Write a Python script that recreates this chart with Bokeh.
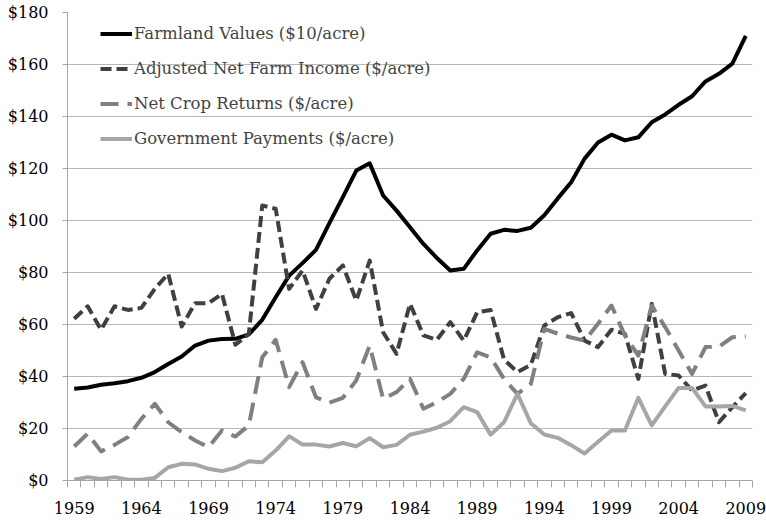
from bokeh.plotting import figure
from bokeh.models import FixedTicker, NumeralTickFormatter, Legend, LegendItem, Range1d
from bokeh.embed import file_html
from bokeh.resources import INLINE

years = list(range(1959, 2010))
farmland = [35.3, 35.8, 36.8, 37.4, 38.2, 39.5, 41.7, 44.8, 47.7, 51.9,
            53.8, 54.4, 54.5, 56.2, 61.8, 70.5, 78.8, 83.6, 88.7, 99.0,
            109.0, 119.2, 122.0, 109.6, 103.8, 97.4, 91.0, 85.6, 80.8, 81.4,
            88.5, 94.9, 96.4, 96.0, 97.2, 102.0, 108.5, 114.7, 123.8, 130.0,
            133.0, 130.8, 132.0, 137.8, 140.8, 144.5, 147.8, 153.5, 156.4, 160.3,
            171.0]
net_income = [62.2, 67.0, 58.0, 67.0, 65.6, 66.4, 73.7, 79.5, 59.2, 68.2,
              68.2, 71.8, 52.2, 56.4, 105.8, 104.5, 73.7, 80.8, 66.0, 77.6,
              82.7, 69.2, 84.6, 57.0, 48.7, 68.0, 55.8, 54.1, 60.9, 53.8,
              64.7, 65.6, 46.5, 41.7, 44.5, 59.6, 62.8, 64.4, 53.8, 51.3,
              58.0, 56.4, 39.1, 68.0, 41.0, 40.4, 34.6, 36.5, 22.4, 28.2,
              33.6]
crop_returns = [13.1, 18.0, 11.2, 13.7, 16.7, 23.7, 29.5, 22.4, 18.6, 15.4,
                12.8, 19.2, 16.9, 21.2, 47.4, 54.1, 35.9, 45.5, 32.0, 29.9,
                31.8, 38.5, 51.9, 31.4, 34.0, 39.1, 27.6, 30.1, 33.3, 39.1,
                49.3, 47.4, 39.1, 33.3, 37.2, 58.3, 56.5, 55.0, 53.8, 60.3,
                67.3, 55.8, 48.0, 67.3, 59.0, 50.0, 41.0, 51.3, 51.5, 55.1,
                55.4]
gov_payments = [0.3, 1.3, 0.6, 1.3, 0.3, 0.3, 1.0, 5.1, 6.4, 6.2,
                4.5, 3.6, 4.9, 7.4, 7.0, 11.5, 17.0, 13.8, 13.8, 13.1,
                14.4, 13.2, 16.3, 12.8, 13.7, 17.6, 18.8, 20.3, 22.8, 28.2,
                26.3, 17.6, 22.4, 33.3, 22.0, 17.7, 16.4, 13.6, 10.4, 14.9,
                19.2, 19.2, 31.8, 21.2, 28.5, 35.6, 35.6, 28.5, 28.5, 28.7,
                27.0]
x_tick_years = list(range(1959, 2010, 5))
y_ticks = list(range(0, 181, 20))
labels = ["Farmland Values ($10/acre)", "Adjusted Net Farm Income ($/acre)",
          "Net Crop Returns ($/acre)", "Government Payments ($/acre)"]

FONT = "DejaVu Serif"
FS = "16px"

p = figure(width=766, height=521, output_backend="svg", toolbar_location=None,
           x_range=Range1d(1958.5, 2009.5), y_range=Range1d(0, 180),
           min_border_left=67, min_border_right=14, min_border_top=12, min_border_bottom=41)
p.outline_line_color = None
p.background_fill_color = "white"

r1 = p.line(years, farmland, line_color="#000000", line_width=4, line_join="round")
r2 = p.line(years, net_income, line_color="#404040", line_width=4, line_dash="11 5",
            line_join="round", line_cap="butt")
r3 = p.line(years, crop_returns, line_color="#808080", line_width=4, line_dash="18 9",
            line_join="round", line_cap="butt")
r4 = p.line(years, gov_payments, line_color="#a6a6a6", line_width=4, line_join="round")

# x axis
minor = [1958.5 + k for k in range(52)]
p.xaxis.ticker = FixedTicker(ticks=x_tick_years, minor_ticks=minor)
p.xaxis.axis_line_color = "#a6a6a6"
p.xaxis.major_tick_line_color = None
p.xaxis.major_tick_out = 0
p.xaxis.major_tick_in = 0
p.xaxis.minor_tick_line_color = "#a6a6a6"
p.xaxis.minor_tick_out = 7
p.xaxis.minor_tick_in = 0
p.xaxis.major_label_standoff = 14
p.xaxis.major_label_text_font = FONT
p.xaxis.major_label_text_font_size = FS
p.xaxis.major_label_text_color = "#000000"

# y axis
p.yaxis.ticker = FixedTicker(ticks=y_ticks)
p.yaxis.formatter = NumeralTickFormatter(format="$0")
p.yaxis.axis_line_color = "#a6a6a6"
p.yaxis.major_tick_line_color = "#a6a6a6"
p.yaxis.major_tick_out = 5
p.yaxis.major_tick_in = 0
p.yaxis.minor_tick_line_color = None
p.yaxis.major_label_standoff = 14
p.yaxis.major_label_text_font = FONT
p.yaxis.major_label_text_font_size = FS
p.yaxis.major_label_text_color = "#000000"

p.xgrid.grid_line_color = None
p.ygrid.grid_line_color = "#b8b8b8"
p.ygrid.grid_line_width = 1

legend = Legend(items=[LegendItem(label=labels[0], renderers=[r1]),
                       LegendItem(label=labels[1], renderers=[r2]),
                       LegendItem(label=labels[2], renderers=[r3]),
                       LegendItem(label=labels[3], renderers=[r4])],
                location=(33, 330), padding=0, margin=0, spacing=12,
                glyph_width=32, glyph_height=23, label_height=23, label_standoff=2,
                label_text_font=FONT, label_text_font_size="16.5px",
                border_line_color=None, background_fill_alpha=0)
p.add_layout(legend, "center")

open("out.html", "w").write(file_html(p, INLINE))
